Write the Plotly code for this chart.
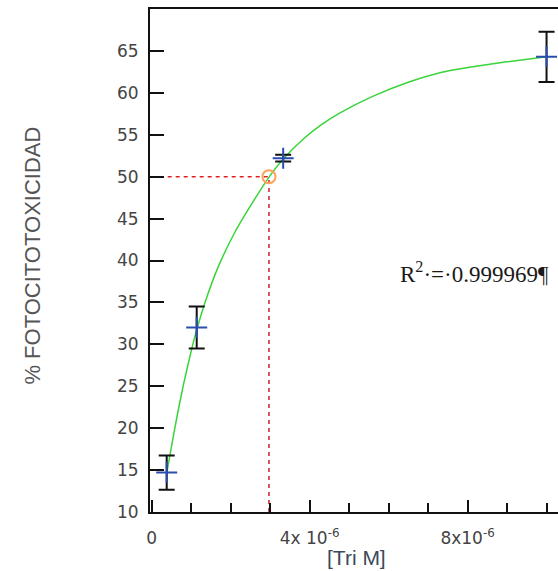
import plotly.graph_objects as go

# measured points (concentration in M, % phototoxicity)
pt_x = [0.38e-6, 1.14e-6, 3.33e-6, 10.0e-6]
pt_y = [14.7, 32.0, 52.2, 64.3]
pt_err = [2.05, 2.5, 0.4, 3.0]

# fitted curve
fit_x = [0.38e-6, 0.45e-6, 0.52e-6, 0.65e-6, 0.80e-6, 1.01e-6, 1.15e-6, 1.35e-6,
         1.69e-6, 2.11e-6, 2.62e-6, 2.98e-6, 3.33e-6, 3.84e-6, 4.30e-6, 4.77e-6, 5.61e-6,
         6.46e-6, 7.30e-6, 8.13e-6, 8.99e-6, 10.0e-6]
fit_y = [14.6, 16.5, 18.3, 21.6, 25.1, 29.4, 31.9, 35.0,
         39.3, 43.4, 47.4, 50.0, 52.1, 54.5, 56.2, 57.6, 59.6,
         61.2, 62.4, 63.1, 63.7, 64.3]

# IC50 marker
ic50_x = [2.97e-6]
ic50_y = [50]

x_tickvals = [0, 4e-6, 8e-6]
x_ticktext = ["0", "4x 10<sup>-6</sup>", "8x10<sup>-6</sup>"]
y_tickvals = [10, 15, 20, 25, 30, 35, 40, 45, 50, 55, 60, 65]

fig = go.Figure()

# dashed IC50 guides
fig.add_trace(go.Scatter(x=[0, ic50_x[0]], y=[ic50_y[0], ic50_y[0]], mode="lines",
                         line=dict(color="#dd2222", width=1.5, dash="4px,4px"),
                         hoverinfo="skip", showlegend=False))
fig.add_trace(go.Scatter(x=[ic50_x[0], ic50_x[0]], y=[10, ic50_y[0]], mode="lines",
                         line=dict(color="#cc1f33", width=1.5, dash="4px,4px"),
                         hoverinfo="skip", showlegend=False))

# fit curve
fig.add_trace(go.Scatter(x=fit_x, y=fit_y, mode="lines", line_shape="spline",
                         line=dict(color="#3ad43a", width=1.5, smoothing=0.5), showlegend=False))

# data with error bars
fig.add_trace(go.Scatter(x=pt_x, y=pt_y, mode="markers",
                         marker=dict(symbol="cross-thin", size=15,
                                     line=dict(color="#2a4db0", width=2)),
                         error_y=dict(type="data", array=pt_err, color="#111111",
                                      thickness=2, width=8),
                         showlegend=False))

# IC50 circle
fig.add_trace(go.Scatter(x=ic50_x, y=ic50_y, mode="markers",
                         marker=dict(symbol="circle-open", size=13,
                                     line=dict(color="#e02020", width=2)),
                         showlegend=False))

fig.add_annotation(x=6.24e-6, y=38.6, xref="x", yref="y", xanchor="left", yanchor="middle",
                   text="R<sup>2</sup>·=·0.999969¶", showarrow=False,
                   font=dict(family="Liberation Serif, Times New Roman, serif", size=23, color="#1a1a1a"))

fig.add_annotation(x=0.507, y=-0.0895, xref="paper", yref="paper", xanchor="center", yanchor="middle",
                   text="[Tri M]", showarrow=False,
                   font=dict(family="Liberation Sans, Arial, sans-serif", size=21, color="#3a4a5a"))

fig.add_annotation(x=-0.289, y=0.51, xref="paper", yref="paper", xanchor="center", yanchor="middle",
                   text="% FOTOCITOTOXICIDAD", showarrow=False, textangle=-90,
                   font=dict(family="Liberation Sans, Arial, sans-serif", size=22, color="#555555"))

fig.update_layout(
    width=558, height=571,
    margin=dict(l=150, r=0, t=9, b=59),
    paper_bgcolor="white", plot_bgcolor="white",
    font=dict(family="DejaVu Sans, Arial, sans-serif", size=17, color="#444444"),
    xaxis=dict(range=[-0.043e-6, 10.29e-6], tickvals=x_tickvals, ticktext=x_ticktext,
               ticks="inside", ticklen=12, tickwidth=1.5, tickcolor="#111111",
               minor=dict(dtick=1e-6, tick0=0, ticks="inside", ticklen=9, tickwidth=1.5, tickcolor="#111111"),
               showline=True, linecolor="#111111", linewidth=2, mirror=True,
               showgrid=False, zeroline=False, ticklabelstandoff=10),
    yaxis=dict(range=[10, 70], tickvals=y_tickvals,
               ticks="inside", ticklen=14, tickwidth=1.5, tickcolor="#111111",
               showline=True, linecolor="#111111", linewidth=2,
               showgrid=False, zeroline=False, ticklabelstandoff=6),
)

fig.write_html("out.html")
